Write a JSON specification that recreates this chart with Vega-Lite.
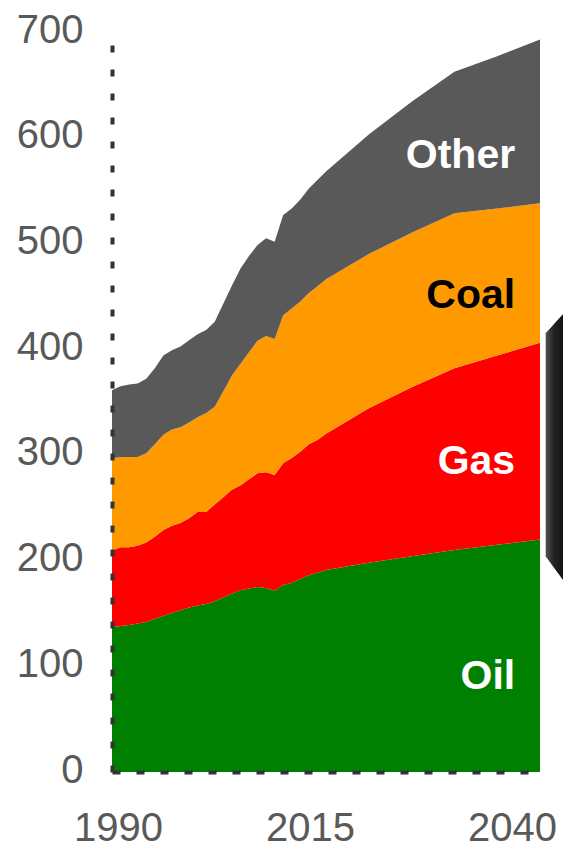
{
  "$schema": "https://vega.github.io/schema/vega-lite/v6.json",
  "width": 428,
  "height": 740,
  "autosize": {"type": "none"},
  "padding": {"left": 112, "top": 32, "right": 23, "bottom": 74},
  "background": "white",
  "config": {"view": {"stroke": null}, "font": "Liberation Sans"},
  "datasets": {
    "energy": [
      {"year": 1990, "fuel": "Oil", "value": 137}, {"year": 1990, "fuel": "Gas", "value": 72.5}, {"year": 1990, "fuel": "Coal", "value": 87}, {"year": 1990, "fuel": "Other", "value": 64.5},
      {"year": 1991, "fuel": "Oil", "value": 138}, {"year": 1991, "fuel": "Gas", "value": 74.5}, {"year": 1991, "fuel": "Coal", "value": 85.5}, {"year": 1991, "fuel": "Other", "value": 67},
      {"year": 1992, "fuel": "Oil", "value": 139}, {"year": 1992, "fuel": "Gas", "value": 73.5}, {"year": 1992, "fuel": "Coal", "value": 85.5}, {"year": 1992, "fuel": "Other", "value": 68.5},
      {"year": 1993, "fuel": "Oil", "value": 140.5}, {"year": 1993, "fuel": "Gas", "value": 73.5}, {"year": 1993, "fuel": "Coal", "value": 84}, {"year": 1993, "fuel": "Other", "value": 69.5},
      {"year": 1994, "fuel": "Oil", "value": 142}, {"year": 1994, "fuel": "Gas", "value": 75}, {"year": 1994, "fuel": "Coal", "value": 84.5}, {"year": 1994, "fuel": "Other", "value": 70.5},
      {"year": 1995, "fuel": "Oil", "value": 145}, {"year": 1995, "fuel": "Gas", "value": 77.5}, {"year": 1995, "fuel": "Coal", "value": 87.5}, {"year": 1995, "fuel": "Other", "value": 72},
      {"year": 1996, "fuel": "Oil", "value": 147.5}, {"year": 1996, "fuel": "Gas", "value": 81.5}, {"year": 1996, "fuel": "Coal", "value": 90}, {"year": 1996, "fuel": "Other", "value": 75},
      {"year": 1997, "fuel": "Oil", "value": 150.5}, {"year": 1997, "fuel": "Gas", "value": 82.5}, {"year": 1997, "fuel": "Coal", "value": 91}, {"year": 1997, "fuel": "Other", "value": 75},
      {"year": 1998, "fuel": "Oil", "value": 153}, {"year": 1998, "fuel": "Gas", "value": 82.5}, {"year": 1998, "fuel": "Coal", "value": 90.5}, {"year": 1998, "fuel": "Other", "value": 76.5},
      {"year": 1999, "fuel": "Oil", "value": 155.5}, {"year": 1999, "fuel": "Gas", "value": 84.5}, {"year": 1999, "fuel": "Coal", "value": 90.5}, {"year": 1999, "fuel": "Other", "value": 78},
      {"year": 2000, "fuel": "Oil", "value": 157.5}, {"year": 2000, "fuel": "Gas", "value": 88.5}, {"year": 2000, "fuel": "Coal", "value": 89.5}, {"year": 2000, "fuel": "Other", "value": 78.5},
      {"year": 2001, "fuel": "Oil", "value": 159}, {"year": 2001, "fuel": "Gas", "value": 87}, {"year": 2001, "fuel": "Coal", "value": 93.5}, {"year": 2001, "fuel": "Other", "value": 78.5},
      {"year": 2002, "fuel": "Oil", "value": 161.5}, {"year": 2002, "fuel": "Gas", "value": 91.5}, {"year": 2002, "fuel": "Coal", "value": 92.5}, {"year": 2002, "fuel": "Other", "value": 80.5},
      {"year": 2003, "fuel": "Oil", "value": 165}, {"year": 2003, "fuel": "Gas", "value": 95}, {"year": 2003, "fuel": "Coal", "value": 100}, {"year": 2003, "fuel": "Other", "value": 83},
      {"year": 2004, "fuel": "Oil", "value": 168.5}, {"year": 2004, "fuel": "Gas", "value": 98.5}, {"year": 2004, "fuel": "Coal", "value": 108}, {"year": 2004, "fuel": "Other", "value": 85},
      {"year": 2005, "fuel": "Oil", "value": 172}, {"year": 2005, "fuel": "Gas", "value": 99}, {"year": 2005, "fuel": "Coal", "value": 115}, {"year": 2005, "fuel": "Other", "value": 90},
      {"year": 2006, "fuel": "Oil", "value": 173.5}, {"year": 2006, "fuel": "Gas", "value": 103.5}, {"year": 2006, "fuel": "Coal", "value": 120}, {"year": 2006, "fuel": "Other", "value": 91},
      {"year": 2007, "fuel": "Oil", "value": 175}, {"year": 2007, "fuel": "Gas", "value": 107.5}, {"year": 2007, "fuel": "Coal", "value": 125.5}, {"year": 2007, "fuel": "Other", "value": 90.5},
      {"year": 2008, "fuel": "Oil", "value": 174}, {"year": 2008, "fuel": "Gas", "value": 109.5}, {"year": 2008, "fuel": "Coal", "value": 129}, {"year": 2008, "fuel": "Other", "value": 92.5},
      {"year": 2009, "fuel": "Oil", "value": 171.5}, {"year": 2009, "fuel": "Gas", "value": 109.5}, {"year": 2009, "fuel": "Coal", "value": 128.5}, {"year": 2009, "fuel": "Other", "value": 92},
      {"year": 2010, "fuel": "Oil", "value": 177}, {"year": 2010, "fuel": "Gas", "value": 115}, {"year": 2010, "fuel": "Coal", "value": 140}, {"year": 2010, "fuel": "Other", "value": 95},
      {"year": 2011, "fuel": "Oil", "value": 179}, {"year": 2011, "fuel": "Gas", "value": 118}, {"year": 2011, "fuel": "Coal", "value": 141.5}, {"year": 2011, "fuel": "Other", "value": 94.5},
      {"year": 2012, "fuel": "Oil", "value": 182.5}, {"year": 2012, "fuel": "Gas", "value": 120.5}, {"year": 2012, "fuel": "Coal", "value": 142}, {"year": 2012, "fuel": "Other", "value": 96.5},
      {"year": 2013, "fuel": "Oil", "value": 186}, {"year": 2013, "fuel": "Gas", "value": 124}, {"year": 2013, "fuel": "Coal", "value": 143}, {"year": 2013, "fuel": "Other", "value": 99},
      {"year": 2014, "fuel": "Oil", "value": 188.5}, {"year": 2014, "fuel": "Gas", "value": 125.5}, {"year": 2014, "fuel": "Coal", "value": 145.5}, {"year": 2014, "fuel": "Other", "value": 100.5},
      {"year": 2015, "fuel": "Oil", "value": 191}, {"year": 2015, "fuel": "Gas", "value": 129}, {"year": 2015, "fuel": "Coal", "value": 146}, {"year": 2015, "fuel": "Other", "value": 102},
      {"year": 2020, "fuel": "Oil", "value": 198}, {"year": 2020, "fuel": "Gas", "value": 146}, {"year": 2020, "fuel": "Coal", "value": 146}, {"year": 2020, "fuel": "Other", "value": 113},
      {"year": 2025, "fuel": "Oil", "value": 204}, {"year": 2025, "fuel": "Gas", "value": 160}, {"year": 2025, "fuel": "Coal", "value": 146}, {"year": 2025, "fuel": "Other", "value": 124},
      {"year": 2030, "fuel": "Oil", "value": 210}, {"year": 2030, "fuel": "Gas", "value": 172}, {"year": 2030, "fuel": "Coal", "value": 146.5}, {"year": 2030, "fuel": "Other", "value": 134},
      {"year": 2035, "fuel": "Oil", "value": 215}, {"year": 2035, "fuel": "Gas", "value": 179}, {"year": 2035, "fuel": "Coal", "value": 139}, {"year": 2035, "fuel": "Other", "value": 144},
      {"year": 2040, "fuel": "Oil", "value": 220}, {"year": 2040, "fuel": "Gas", "value": 186}, {"year": 2040, "fuel": "Coal", "value": 132}, {"year": 2040, "fuel": "Other", "value": 155}
    ],
    "labels": [
      {"label": "Other", "year": 2037.1, "value": 571},
      {"label": "Coal", "year": 2037.1, "value": 439},
      {"label": "Gas", "year": 2037.1, "value": 282},
      {"label": "Oil", "year": 2037.1, "value": 78.5}
    ],
    "decor": [
      {"year": 2040.6, "lo": 204, "hi": 415},
      {"year": 2043.5, "lo": 172, "hi": 441}
    ]
  },
  "layer": [
    {
      "data": {"name": "energy"},
      "transform": [{"calculate": "indexof(['Oil','Gas','Coal','Other'], datum.fuel)", "as": "stackOrder"}],
      "mark": {"type": "area", "interpolate": "linear"},
      "encoding": {
        "x": {
          "field": "year", "type": "quantitative",
          "scale": {"domain": [1990, 2040], "nice": false, "zero": false},
          "axis": {
            "values": [1990, 2015, 2040], "format": "d", "title": null,
            "grid": false, "ticks": false, "zindex": 1,
            "domainColor": "#333333", "domainWidth": 4, "domainDash": [8, 16],
            "labelFont": "Liberation Sans", "labelFontSize": 40, "labelColor": "#595959",
            "labelPadding": 36, "labelFlush": false, "labelOverlap": false, "labelBound": false,
            "labelOffset": {"condition": [{"test": "datum.value == 1990", "value": 6}, {"test": "datum.value == 2015", "value": -16}], "value": -28}
          }
        },
        "y": {
          "field": "value", "type": "quantitative", "stack": "zero",
          "scale": {"domain": [0, 700], "nice": false},
          "axis": {
            "values": [0, 100, 200, 300, 400, 500, 600, 700], "title": null,
            "grid": false, "ticks": false, "zindex": 1,
            "domainColor": "#333333", "domainWidth": 4, "domainDash": [7, 17],
            "labelFont": "Liberation Sans", "labelFontSize": 40, "labelColor": "#595959",
            "labelPadding": 29, "labelOverlap": false, "labelBound": false, "labelFlush": false,
            "labelOffset": -2
          }
        },
        "order": {"field": "stackOrder", "type": "quantitative", "sort": "ascending"},
        "color": {
          "field": "fuel", "type": "nominal",
          "scale": {"domain": ["Oil", "Gas", "Coal", "Other"], "range": ["#008000", "#FF0000", "#FF9900", "#595959"]},
          "legend": null
        }
      }
    },
    {
      "data": {"name": "labels"},
      "mark": {"type": "text", "align": "right", "baseline": "alphabetic", "fontSize": 41, "fontWeight": "bold", "font": "Liberation Sans"},
      "encoding": {
        "x": {"field": "year", "type": "quantitative"},
        "y": {"field": "value", "type": "quantitative"},
        "text": {"field": "label"},
        "color": {"condition": {"test": "datum.label === 'Coal'", "value": "#000000"}, "value": "#FFFFFF"}
      }
    },
    {
      "data": {"name": "decor"},
      "mark": {
        "type": "area", "clip": false, "stroke": "#FFFFFF", "strokeWidth": 1,
        "color": {"gradient": "linear", "x1": 0, "x2": 1, "y1": 0, "y2": 0, "stops": [{"offset": 0, "color": "#555555"}, {"offset": 0.35, "color": "#222222"}, {"offset": 1, "color": "#0a0a0a"}]}
      },
      "encoding": {
        "x": {"field": "year", "type": "quantitative"},
        "y": {"field": "lo", "type": "quantitative"},
        "y2": {"field": "hi"}
      }
    }
  ]
}
